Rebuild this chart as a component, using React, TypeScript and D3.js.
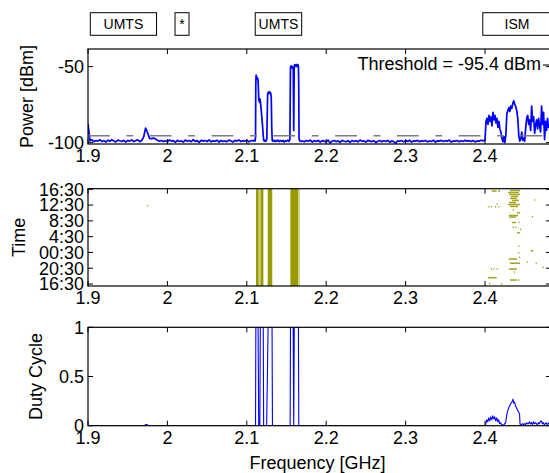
import React from 'react';
import * as d3 from 'd3';

const W = 549;
const H = 473;
const FONT = '"Liberation Sans", Arial, Helvetica, sans-serif';

// ---------- axis ticks ----------
const freqTicks = [1.9, 2.0, 2.1, 2.2, 2.3, 2.4, 2.5];
const freqTickLabels = ['1.9', '2', '2.1', '2.2', '2.3', '2.4', '2.5'];
const powerTicks = [-50, -100];
const powerTickLabels = ['-50', '-100'];
const timeTicks = [0, 4, 8, 12, 16, 20, 24];
const timeTickLabels = ['16:30', '20:30', '00:30', '4:30', '8:30', '12:30', '16:30'];
const dutyTicks = [0, 0.5, 1];
const dutyTickLabels = ['0', '0.5', '1'];

// ---------- band annotations ----------
const bandNames = ['UMTS', '*', 'UMTS', 'ISM'];
const bandStart = [1.9029, 2.0096, 2.1106, 2.3972];
const bandEnd = [1.9863, 2.0272, 2.1691, 2.4835];

const thresholdDbm = -95.4;

// ---------- power spectrum (dBm) ----------
const lowBandStart = 1.9;
const lowBandStep = 0.0025;
const lowBandPower = [
  -87.5, -98.8, -98.2, -99.4, -98.6, -99.0, -98.1, -99.3, -98.7, -99.6,
  -98.4, -99.1, -98.0, -98.9, -99.5, -98.3, -98.8, -99.2, -98.5, -99.7,
  -98.6, -99.0, -98.2, -99.3, -98.7, -98.1, -99.4, -98.6, -96.5, -90.5,
  -93.5, -97.2, -97.4, -97.0, -97.6, -98.4, -99.1, -98.6, -99.3, -98.8,
  -99.5, -98.2, -99.0, -98.7, -99.8, -98.5, -99.2, -98.9, -99.6, -98.3,
  -99.1, -98.6, -99.4, -98.0, -99.2, -98.7, -99.9, -98.4, -99.0, -98.6,
  -99.3, -98.2, -99.5, -98.8, -99.1, -98.4, -99.7, -98.6, -99.2, -98.9,
  -99.4, -98.3, -98.9, -99.6, -98.5, -99.0, -98.2, -99.3, -98.7, -99.1,
  -98.4, -99.5, -98.8,
];

const umtsFreq = [
  2.1075, 2.1085, 2.1095, 2.1105, 2.111, 2.1113, 2.1117, 2.1121, 2.1126, 2.1131,
  2.1137, 2.1142, 2.1147, 2.1151, 2.1156, 2.1161, 2.1166, 2.1171, 2.1177, 2.1184,
  2.1192, 2.12, 2.1207, 2.1213, 2.122, 2.1228, 2.1236, 2.1244, 2.1252, 2.1258,
  2.1262, 2.1268, 2.1274, 2.128, 2.1287, 2.1294, 2.1301, 2.1308, 2.1314, 2.132,
  2.133, 2.134, 2.135, 2.136, 2.137, 2.138, 2.1395, 2.141, 2.1425, 2.144,
  2.1455, 2.147, 2.1485, 2.15, 2.1515, 2.153, 2.1543, 2.1547, 2.155, 2.1556,
  2.1562, 2.1568, 2.1574, 2.158, 2.1585, 2.1591, 2.1597, 2.1603, 2.1609, 2.1615,
  2.1621, 2.1627, 2.1633, 2.1639, 2.1645, 2.165, 2.1654, 2.1658, 2.1665, 2.168,
];
const umtsPower = [
  -98.6, -99.0, -98.4, -98.9, -96.5, -62, -55.5, -57.5, -56.8, -58.2,
  -57.6, -59.5, -66, -72.5, -70.8, -73.5, -71.2, -73, -76, -80,
  -85, -90, -95.5, -98.4, -99.0, -98.5, -99.2, -98.7, -97.5, -80,
  -68.5, -67.0, -67.8, -66.5, -67.5, -66.8, -67.6, -70, -90, -98.6,
  -99.1, -98.4, -98.9, -99.3, -98.6, -99.0, -98.3, -99.4, -98.7, -99.1,
  -98.5, -99.6, -98.8, -99.0, -98.4, -99.2, -97.8, -70, -50.5, -49.5,
  -50.8, -49.8, -51.0, -50.2, -51.5, -92, -50, -48.6, -49.8, -48.9,
  -50.0, -49.2, -48.5, -49.6, -48.8, -50.2, -62, -97.5, -98.8, -99.2,
];

const midBandStart = 2.17;
const midBandStep = 0.0025;
const midBandPower = [
  -98.9, -99.4, -98.6, -99.1, -98.3, -99.6, -98.8, -99.2, -98.5, -99.7, -98.7, -99.0,
  -99.5, -98.4, -100.2, -99.0, -98.6, -99.3, -98.9, -99.8, -98.5, -99.1,
  -99.4, -98.7, -99.9, -98.6, -99.2, -98.8, -99.5, -98.3, -99.1, -98.9,
  -99.6, -98.5, -99.0, -99.3, -98.7, -100.0, -99.1, -98.6, -99.4, -98.8,
  -99.2, -98.5, -99.7, -98.9, -99.3, -100.4, -98.8, -99.1, -98.6, -99.5,
  -98.7, -99.2, -98.4, -99.6, -98.9, -99.0, -98.5, -99.4, -98.8, -99.1,
  -98.6, -99.5, -98.9, -99.2, -98.4, -99.7, -98.8, -99.0, -98.5, -99.3,
  -98.7, -99.1, -98.3, -99.6, -98.9, -99.0, -98.6, -99.4, -98.8, -99.2,
  -98.5, -99.0, -98.7, -99.3, -98.6, -99.5, -98.9, -99.1, -98.4, -98.8,
];

const ismStart = 2.4;
const ismStep = 0.00125;
const ismPower = [
  -98.5, -86, -84, -88, -82, -86, -83, -89, -80, -85,
  -82, -87, -84, -90, -86, -91, -93, -97, -99.5, -96,
  -100, -95, -81, -79, -77, -79.5, -76, -77.5, -74, -72.5,
  -75, -76.5, -79, -84, -95, -99, -97.5, -93, -98.5, -97,
  -99, -90, -84, -82, -88, -85, -92, -76, -86, -83,
  -94, -88, -85, -91, -84, -89, -93, -76, -88, -80,
  -98, -86, -92, -84, -90, -87, -95,
];

// ---------- time / frequency occupancy ----------
const bandOccStart = [2.1116, 2.1150, 2.1173, 2.1208, 2.1263, 2.1317, 2.1544, 2.1550, 2.1650];
const bandOccEnd = [2.1150, 2.1173, 2.1208, 2.1214, 2.1317, 2.1324, 2.1550, 2.1650, 2.1668];
const bandOccStrong = [true, false, true, false, true, false, false, true, false];

const eventFreqStart = [
  2.4315, 2.4290, 2.4302, 2.4327, 2.4315, 2.4340, 2.4302, 2.4290, 2.4315,
  2.4084, 2.4164, 2.4038, 2.4072, 2.4126, 2.4168, 2.4147, 2.4617, 2.4349,
  2.4403, 2.4302, 2.4302, 2.4590, 2.4340, 2.4419, 2.4349, 2.4382, 2.4441,
  2.4403, 2.4419, 2.4575, 2.4419, 2.4428, 2.4302, 2.4525, 2.4315, 2.4638,
  2.4726, 2.4072, 2.4104, 2.4147, 2.4302, 2.4365, 2.4038, 2.4315, 2.4419,
  2.4050, 2.4202, 1.9743,
];
const eventFreqEnd = [
  2.4441, 2.4428, 2.4441, 2.4416, 2.4403, 2.4428, 2.4390, 2.4441, 2.4416,
  2.4147, 2.4189, 2.4050, 2.4084, 2.4138, 2.4180, 2.4159, 2.4629, 2.4361,
  2.4441, 2.4416, 2.4390, 2.4602, 2.4390, 2.4431, 2.4361, 2.4394, 2.4453,
  2.4441, 2.4431, 2.4608, 2.4431, 2.4440, 2.4403, 2.4537, 2.4441, 2.4650,
  2.4738, 2.4084, 2.4116, 2.4159, 2.4403, 2.4377, 2.4147, 2.4403, 2.4431,
  2.4062, 2.4214, 1.9755,
];
const eventHour = [
  23.70, 23.19, 22.69, 22.18, 21.67, 21.17, 20.66, 20.15, 19.65,
  23.57, 23.57, 19.59, 19.59, 19.59, 19.59, 20.28, 21.29, 18.76,
  18.07, 17.36, 16.98, 17.06, 15.59, 15.59, 14.37, 14.37, 13.87,
  13.00, 9.63, 8.44, 7.93, 6.77, 6.34, 5.58, 5.25, 5.25,
  4.23, 3.80, 3.80, 3.80, 3.80, 3.04, 1.60, 1.01, 1.01,
  0.18, 0.0, 19.85,
];

// ---------- duty cycle ----------
const dutyFreq = [
  1.9, 1.971, 1.9725, 1.975, 1.977, 2.111, 2.1114, 2.1142, 2.115, 2.1164,
  2.117, 2.1207, 2.1212, 2.125, 2.1268, 2.1318, 2.1323, 2.1546, 2.155, 2.1584,
  2.1591, 2.1598, 2.165, 2.1655, 2.4005, 2.401, 2.4022, 2.4035, 2.4047, 2.406,
  2.4072, 2.4085, 2.4097, 2.411, 2.4122, 2.4135, 2.4147, 2.416, 2.4172, 2.4185,
  2.4197, 2.421, 2.4222, 2.4235, 2.4247, 2.426, 2.4272, 2.4285, 2.4297, 2.431,
  2.4322, 2.4335, 2.4347, 2.4352, 2.436, 2.4372, 2.4385, 2.4397, 2.441, 2.4422,
  2.4435, 2.4441, 2.4447, 2.446, 2.4472, 2.4485, 2.4497, 2.451, 2.4522, 2.4535,
  2.4547, 2.456, 2.4572, 2.4585, 2.4597, 2.461, 2.4622, 2.4635, 2.4647, 2.466,
  2.4672, 2.4685, 2.4697, 2.471, 2.4722, 2.4735, 2.4747, 2.476, 2.4772, 2.4785,
  2.4797, 2.481, 2.483,
];
const dutyValue = [
  0, 0, 0.012, 0.008, 0, 0, 1, 1, 0, 0,
  1, 1, 0, 0, 1, 1, 0, 0, 1, 1,
  0, 1, 1, 0, 0, 0.02, 0.06, 0.04, 0.08, 0.05,
  0.09, 0.06, 0.1, 0.07, 0.09, 0.05, 0.08, 0.04, 0.06, 0.02,
  0.03, 0.01, 0.01, 0.0, 0.02, 0.03, 0.1, 0.15, 0.18, 0.2,
  0.22, 0.24, 0.25, 0.27, 0.23, 0.24, 0.2, 0.18, 0.16, 0.14,
  0.12, 0.02, 0.0, 0.01, 0.02, 0.01, 0.02, 0.01, 0.03, 0.02,
  0.02, 0.04, 0.02, 0.03, 0.01, 0.04, 0.02, 0.03, 0.02, 0.01,
  0.03, 0.02, 0.04, 0.05, 0.02, 0.03, 0.01, 0.02, 0.03, 0.01,
  0.02, 0.03, 0.02,
];

// ---------- layout ----------
const X0 = 88;
const X1 = 551;
const FREQ_MAX = 2.4831;

const TOP = { t: 49, b: 144 };
const MID = { t: 188.7, b: 286 };
const BOT = { t: 327.3, b: 425.7 };

const OLIVE = '#999900';
const OLIVE_PALE = '#cccc80';
const BLUE = '#0000ff';

type Scale = d3.ScaleLinear<number, number>;

function Frame(props: {
  x: Scale;
  y: Scale;
  top: number;
  bottom: number;
  yTicks: number[];
  yLabels: string[];
}) {
  const { x, y, top, bottom, yTicks, yLabels } = props;
  const tl = 5;
  const xt = freqTicks.filter((f) => x(f) <= X1 + 0.5);
  return (
    <g>
      {xt.map((f, i) => (
        <g key={'xt' + i}>
          <line x1={x(f)} x2={x(f)} y1={bottom} y2={bottom - tl} stroke="#000" strokeWidth={1} />
          <line x1={x(f)} x2={x(f)} y1={top} y2={top + tl} stroke="#000" strokeWidth={1} />
          <text x={x(f)} y={bottom + 18.3} fontSize={18} textAnchor="middle" fill="#000">
            {freqTickLabels[freqTicks.indexOf(f)]}
          </text>
        </g>
      ))}
      {yTicks.map((v, i) => (
        <g key={'yt' + i}>
          <line x1={X0} x2={X0 + tl} y1={y(v)} y2={y(v)} stroke="#000" strokeWidth={1} />
          <line x1={X1} x2={X1 - tl} y1={y(v)} y2={y(v)} stroke="#000" strokeWidth={1} />
          <text x={X0 - 4} y={y(v) + 6.4} fontSize={18} textAnchor="end" fill="#000">
            {yLabels[i]}
          </text>
        </g>
      ))}
      <rect x={X0} y={top} width={X1 - X0} height={bottom - top} fill="none" stroke="#000" strokeWidth={1.2} />
    </g>
  );
}

export default function App() {
  const x = d3.scaleLinear().domain([1.9, FREQ_MAX]).range([X0, X1]);
  const yP = d3.scaleLinear().domain([-100.9, -38.4]).range([TOP.b, TOP.t]);
  const yT = d3.scaleLinear().domain([-0.5, 24.15]).range([MID.b, MID.t]);
  const yD = d3.scaleLinear().domain([0, 1]).range([BOT.b, BOT.t]);

  const pts: [number, number][] = [];
  lowBandPower.forEach((p, i) => pts.push([lowBandStart + i * lowBandStep, p]));
  umtsFreq.forEach((f, i) => pts.push([f, umtsPower[i]]));
  midBandPower.forEach((p, i) => pts.push([midBandStart + i * midBandStep, p]));
  ismPower.forEach((p, i) => pts.push([ismStart + i * ismStep, p]));
  pts.sort((a, b) => a[0] - b[0]);

  const powerLine = d3
    .line<[number, number]>()
    .x((d) => x(d[0]))
    .y((d) => yP(d[1]))(pts) as string;

  const dutyPts: [number, number][] = dutyFreq.map((f, i) => [f, dutyValue[i]]);
  const dutyPts2: [number, number][] = [...dutyPts, [FREQ_MAX, 0.02]];
  const dutyLine = d3
    .line<[number, number]>()
    .x((d) => x(d[0]))
    .y((d) => yD(d[1]))(dutyPts2) as string;

  const rowH = Math.abs(yT(0.38) - yT(0));

  return (
    <svg
      width={W}
      height={H}
      viewBox={`0 0 ${W} ${H}`}
      style={{ position: 'absolute', left: 0, top: 0, background: '#fff' }}
      fontFamily={FONT}
    >
      <defs>
        <clipPath id="cTop">
          <rect x={X0} y={TOP.t} width={X1 - X0} height={TOP.b - TOP.t} />
        </clipPath>
        <clipPath id="cMid">
          <rect x={X0} y={MID.t} width={X1 - X0} height={MID.b - MID.t} />
        </clipPath>
        <clipPath id="cBot">
          <rect x={X0} y={BOT.t} width={X1 - X0} height={BOT.b - BOT.t} />
        </clipPath>
      </defs>
      <rect x={0} y={0} width={W} height={H} fill="#fff" />

      {/* band annotations */}
      {bandNames.map((n, i) => (
        <g key={'band' + i}>
          <rect
            x={x(bandStart[i])}
            y={12.7}
            width={x(bandEnd[i]) - x(bandStart[i])}
            height={22.6}
            fill="#fff"
            stroke="#000"
            strokeWidth={1}
          />
          <text
            x={n === 'ISM' ? 517 : (x(bandStart[i]) + x(bandEnd[i])) / 2}
            y={29}
            fontSize={14}
            textAnchor="middle"
            fill="#000"
          >
            {n}
          </text>
        </g>
      ))}

      {/* top: power */}
      <g clipPath="url(#cTop)">
        <path d={powerLine} fill="none" stroke={BLUE} strokeWidth={1.7} strokeLinejoin="round" />
        <line
          x1={X0}
          x2={X1}
          y1={yP(thresholdDbm)}
          y2={yP(thresholdDbm)}
          stroke="#7a7a7a"
          strokeWidth={1.5}
          strokeDasharray="21.7 16.7 6.7 16.7"
        />
      </g>
      <text x={541} y={70} fontSize={18} textAnchor="end" fill="#000">
        Threshold = -95.4 dBm
      </text>
      <line x1={543} x2={560} y1={65} y2={65} stroke="#333" strokeWidth={1.3} />
      <Frame x={x} y={yP} top={TOP.t} bottom={TOP.b} yTicks={powerTicks} yLabels={powerTickLabels} />

      {/* middle: occupancy */}
      <g clipPath="url(#cMid)">
        {bandOccStart.map((f, i) => (
          <rect
            key={'occ' + i}
            x={x(f)}
            y={MID.t}
            width={x(bandOccEnd[i]) - x(f)}
            height={MID.b - MID.t}
            fill={bandOccStrong[i] ? OLIVE : OLIVE_PALE}
          />
        ))}
        {eventFreqStart.map((f, i) => (
          <rect
            key={'ev' + i}
            x={x(f)}
            y={yT(eventHour[i]) - rowH / 2}
            width={Math.max(1.2, x(eventFreqEnd[i]) - x(f))}
            height={rowH}
            fill="#a3a31f"
          />
        ))}
      </g>
      <Frame x={x} y={yT} top={MID.t} bottom={MID.b} yTicks={timeTicks} yLabels={timeTickLabels} />

      {/* bottom: duty cycle */}
      <g clipPath="url(#cBot)">
        <path d={dutyLine} fill="none" stroke={BLUE} strokeWidth={1.1} strokeLinejoin="round" />
      </g>
      <Frame x={x} y={yD} top={BOT.t} bottom={BOT.b} yTicks={dutyTicks} yLabels={dutyTickLabels} />

      {/* axis titles */}
      <text transform="translate(33,96.5) rotate(-90)" fontSize={18} textAnchor="middle" fill="#000">
        Power [dBm]
      </text>
      <text transform="translate(24.5,237.3) rotate(-90)" fontSize={18} textAnchor="middle" fill="#000">
        Time
      </text>
      <text transform="translate(41.5,376.5) rotate(-90)" fontSize={18} textAnchor="middle" fill="#000">
        Duty Cycle
      </text>
      <text x={(X0 + X1) / 2 - 2} y={469} fontSize={18} textAnchor="middle" fill="#000">
        Frequency [GHz]
      </text>
    </svg>
  );
}
